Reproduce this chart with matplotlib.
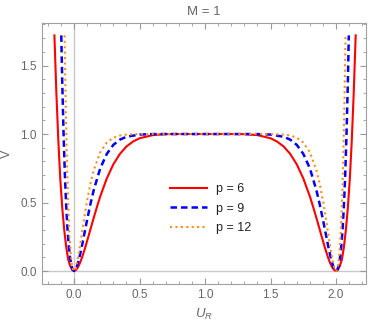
import numpy as np
import matplotlib
matplotlib.use("Agg")
from matplotlib import pyplot as plt
from matplotlib.ticker import MultipleLocator

# values (V against U_R)
u_p6 = [-0.15, -0.135, -0.12, -0.105, -0.09, -0.075, -0.06, -0.045, -0.03, -0.015, 0.0,
        0.015, 0.03, 0.045, 0.06, 0.08, 0.10, 0.125, 0.15, 0.175, 0.20, 0.25, 0.30, 0.35,
        0.40, 0.45, 0.50, 0.60, 0.70, 0.80, 1.00, 1.20, 1.30, 1.40, 1.50, 1.55, 1.60,
        1.65, 1.70, 1.75, 1.80, 1.825, 1.85, 1.875, 1.90, 1.92, 1.94, 1.955, 1.97, 1.985,
        2.00, 2.015, 2.03, 2.045, 2.06, 2.075, 2.09, 2.105, 2.12, 2.135, 2.15]
v_p6 = [1.72, 1.30, 0.95, 0.67, 0.46, 0.30, 0.175, 0.085, 0.038, 0.009, 0.0,
        0.008, 0.028, 0.058, 0.096, 0.155, 0.22, 0.304, 0.388, 0.469, 0.545, 0.676, 0.779, 0.855,
        0.909, 0.945, 0.969, 0.992, 0.999, 1.0, 1.0, 1.0, 0.999, 0.992, 0.969, 0.945, 0.909,
        0.855, 0.779, 0.676, 0.545, 0.469, 0.388, 0.304, 0.22, 0.155, 0.096, 0.058, 0.028, 0.008,
        0.0, 0.009, 0.038, 0.085, 0.175, 0.30, 0.46, 0.67, 0.95, 1.30, 1.72]

u_p9 = [-0.0975, -0.09, -0.08, -0.07, -0.06, -0.05, -0.04, -0.03, -0.02, -0.01, 0.0,
        0.01, 0.02, 0.04, 0.06, 0.08, 0.10, 0.125, 0.15, 0.20, 0.25, 0.30, 0.35, 0.40,
        0.50, 0.60, 0.70, 1.00, 1.30, 1.40, 1.50, 1.60, 1.65, 1.70, 1.75, 1.80, 1.85,
        1.875, 1.90, 1.92, 1.94, 1.96, 1.98, 1.99, 2.00, 2.01, 2.02, 2.03, 2.04, 2.05,
        2.06, 2.07, 2.08, 2.09, 2.0975]
v_p9 = [1.72, 1.37, 1.0, 0.70, 0.475, 0.304, 0.179, 0.093, 0.038, 0.009, 0.0,
        0.008, 0.028, 0.095, 0.182, 0.279, 0.375, 0.489, 0.59, 0.75, 0.855, 0.921, 0.959, 0.98,
        0.996, 0.9995, 1.0, 1.0, 1.0, 0.9995, 0.996, 0.98, 0.959, 0.921, 0.855, 0.75, 0.59,
        0.489, 0.375, 0.279, 0.182, 0.095, 0.028, 0.008, 0.0, 0.009, 0.038, 0.093, 0.179, 0.304,
        0.475, 0.70, 1.0, 1.37, 1.72]

u_p12 = [-0.0723, -0.065, -0.055, -0.045, -0.035, -0.025, -0.015, -0.005, 0.0,
         0.0075, 0.015, 0.03, 0.045, 0.06, 0.08, 0.10, 0.125, 0.15, 0.20, 0.25, 0.30,
         0.35, 0.40, 0.50, 0.60, 1.00, 1.40, 1.50, 1.60, 1.65, 1.70, 1.75, 1.80, 1.85,
         1.875, 1.90, 1.92, 1.94, 1.955, 1.97, 1.985, 1.9925, 2.00, 2.005, 2.015, 2.025,
         2.035, 2.045, 2.055, 2.065, 2.0723]
v_p12 = [1.72, 1.275, 0.81, 0.484, 0.261, 0.119, 0.038, 0.004, 0.0,
         0.007, 0.0275, 0.094, 0.18, 0.275, 0.40, 0.515, 0.638, 0.736, 0.867, 0.938, 0.973,
         0.989, 0.996, 0.9995, 1.0, 1.0, 1.0, 0.9995, 0.996, 0.989, 0.973, 0.938, 0.867, 0.736,
         0.638, 0.515, 0.40, 0.275, 0.18, 0.094, 0.0275, 0.007, 0.0, 0.004, 0.038, 0.119,
         0.261, 0.484, 0.81, 1.275, 1.72]

labels = ["p = 6", "p = 9", "p = 12"]

plt.rcParams['font.family'] = ['Liberation Sans', 'DejaVu Sans']
plt.rcParams['mathtext.fontset'] = 'custom'
plt.rcParams['mathtext.it'] = 'Liberation Sans:italic'
plt.rcParams['mathtext.rm'] = 'Liberation Sans'

fig = plt.figure(figsize=(3.74, 3.24), dpi=100)
ax = fig.add_axes([0.1115, 0.1225, 0.8665, 0.8055])

gray = '#666666'
ax.axhline(0, color='#c8c8c8', lw=1.0, zorder=1)
ax.axvline(0, color='#c8c8c8', lw=1.0, zorder=1)

ax.plot(u_p6, v_p6, color='#ff0000', lw=1.5, label=labels[0], zorder=3)
ax.plot(u_p9, v_p9, color='#0000ff', lw=1.8, ls=(0, (2.6, 1.6)), label=labels[1], zorder=4)
ax.plot(u_p12, v_p12, color='#ff8c1a', lw=1.5, ls=(0, (1, 1.6)), label=labels[2], zorder=5)

ax.set_xlim(-0.247, 2.227)
ax.set_ylim(-0.097, 1.808)

ax.xaxis.set_major_locator(MultipleLocator(0.5))
ax.xaxis.set_minor_locator(MultipleLocator(0.1))
ax.yaxis.set_major_locator(MultipleLocator(0.5))
ax.yaxis.set_minor_locator(MultipleLocator(0.1))
ax.tick_params(which='both', direction='in', top=True, right=True, colors='#999999',
               labelcolor=gray, labelsize=8.5)
ax.tick_params(which='major', length=4, width=0.8)
ax.tick_params(which='minor', length=2.2, width=0.6)
for s in ax.spines.values():
    s.set_color('#a0a0a0')
    s.set_linewidth(0.8)

ax.set_title("M = 1", color=gray, fontsize=9.5, pad=6)
ax.set_xlabel(r"$U_R$", color=gray, fontsize=9.5, labelpad=4)
ax.set_ylabel("V", color=gray, fontsize=9)
ax.yaxis.set_label_coords(-0.09, 0.5)

leg = ax.legend(loc='upper left', bbox_to_anchor=(0.36, 0.43), frameon=False,
                handlelength=3.0, labelspacing=0.6, fontsize=9, handletextpad=0.7)
for t in leg.get_texts():
    t.set_color('#222222')

fig.savefig("out.png", dpi=100)
